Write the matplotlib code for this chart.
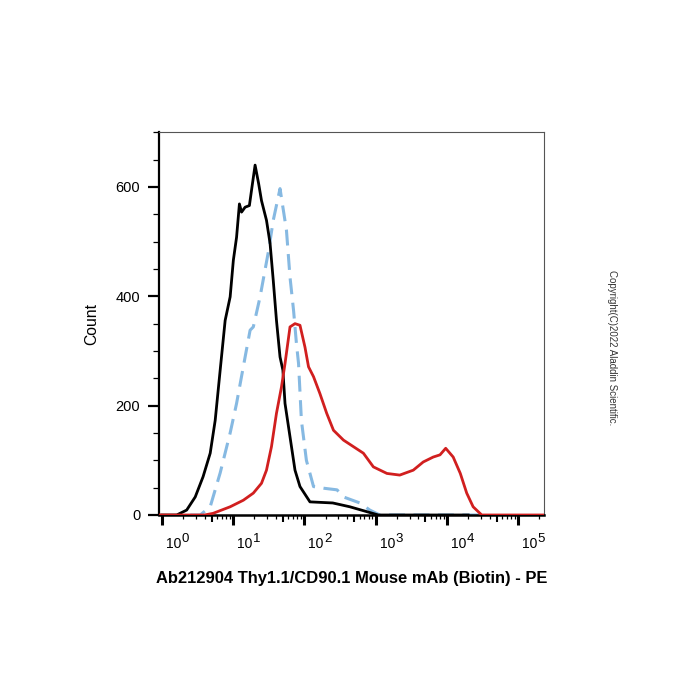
import numpy as np
import matplotlib
matplotlib.use('Agg')
import matplotlib.pyplot as plt
from matplotlib.ticker import FixedLocator, MultipleLocator, NullFormatter

plt.rcParams['font.family'] = ['Liberation Sans', 'DejaVu Sans']

# histogram traces (x in log10 decades, y = count)
black_logx = [0.0, 0.21, 0.35, 0.47, 0.58, 0.68, 0.75, 0.82, 0.89, 0.96, 1.005, 1.05, 1.09,
              1.12, 1.17, 1.23, 1.26, 1.31, 1.36, 1.40, 1.47, 1.52, 1.565, 1.61, 1.66,
              1.70, 1.73, 1.80, 1.87, 1.94, 2.08, 2.40, 2.64, 2.88, 3.04, 4.3]
black_y = [0, 0, 9, 33, 70, 113, 173, 265, 356, 399, 466, 508, 569,
           554, 563, 566, 594, 640, 606, 575, 539, 497, 429, 356, 289,
           265, 204, 143, 82, 52, 24, 22, 15, 6, 0, 0]

blue_logx = [0.4, 0.54, 0.68, 0.82, 0.96, 1.05, 1.17, 1.24, 1.285, 1.38, 1.50, 1.565,
             1.66, 1.75, 1.80, 1.85, 1.89, 1.92, 1.96, 2.03, 2.13, 2.27, 2.46, 2.55,
             2.78, 2.92, 3.06, 4.49]
blue_y = [0, 0, 15, 77, 150, 204, 289, 338, 344, 399, 484, 539,
          597, 521, 435, 374, 314, 277, 173, 100, 52, 49, 46, 33,
          22, 9, 0, 0]

red_logx = [-0.034, 0.6, 0.72, 0.96, 1.145, 1.285, 1.40, 1.47, 1.54, 1.61, 1.68, 1.73, 1.80,
            1.87, 1.94, 2.01, 2.06, 2.13, 2.22, 2.315, 2.41, 2.55, 2.69, 2.83, 2.97, 3.16,
            3.34, 3.53, 3.67, 3.81, 3.905, 3.985, 4.09, 4.19, 4.28, 4.37, 4.49, 5.369]
red_y = [0, 0, 3, 15, 27, 40, 58, 82, 125, 186, 234, 277, 344,
         350, 347, 307, 271, 253, 222, 186, 155, 137, 125, 113, 88, 76,
         73, 82, 97, 106, 110, 122, 106, 76, 40, 15, 0, 0]

decades = [0, 1, 2, 3, 4, 5]
xlabel = 'Ab212904 Thy1.1/CD90.1 Mouse mAb (Biotin) - PE'

fig = plt.figure(figsize=(7, 7), dpi=100)
ax = fig.add_axes([0.2276, 0.2643, 0.55, 0.5467])

ax.plot(10 ** np.array(black_logx), black_y, color='black', lw=2.0, zorder=3)
ax.plot(10 ** np.array(blue_logx), blue_y, color='#86b9e2', lw=2.2,
        dashes=(5.2, 2.8), zorder=2)
ax.plot(10 ** np.array(red_logx), red_y, color='#d11f1f', lw=2.0, zorder=4)

ax.set_xscale('log')
ax.set_xlim(10 ** -0.034, 10 ** 5.369)
ax.set_ylim(0, 700)

major = [10.0 ** d for d in decades]
ax.xaxis.set_major_locator(FixedLocator(major))
ax.xaxis.set_major_formatter(NullFormatter())
minor = [m * 10.0 ** d for d in decades for m in (2, 3, 4, 6, 7, 8, 9)]
ax.xaxis.set_minor_locator(FixedLocator(minor))
ax.xaxis.set_minor_formatter(NullFormatter())

# the 5x ticks are a bit heavier than the other minors
sec = ax.secondary_xaxis('bottom')
sec.set_xticks([5 * 10.0 ** d for d in decades])
sec.xaxis.set_major_formatter(NullFormatter())
sec.xaxis.set_minor_locator(FixedLocator([]))
sec.spines['bottom'].set_visible(False)
sec.tick_params(axis='x', which='major', length=5, width=1.5)

ax.yaxis.set_major_locator(MultipleLocator(200))
ax.yaxis.set_minor_locator(MultipleLocator(50))

ax.tick_params(axis='x', which='major', length=7, width=2.2)
ax.tick_params(axis='x', which='minor', length=3, width=0.9)
ax.tick_params(axis='y', which='major', length=8, width=1.6, labelsize=10.5, pad=5.8)
ax.tick_params(axis='y', which='minor', length=4, width=0.9)

# decade labels: "10" with a large raised exponent
for d in decades:
    ax.annotate('10', xy=(10.0 ** d, 0), xycoords=('data', 'axes fraction'),
                xytext=(3, -24), textcoords='offset points',
                ha='left', va='baseline', fontsize=10)
    ax.annotate(str(d), xy=(10.0 ** d, 0), xycoords=('data', 'axes fraction'),
                xytext=(14.3, -19.3), textcoords='offset points',
                ha='left', va='baseline', fontsize=9.5)

ax.spines['left'].set_linewidth(1.6)
ax.spines['bottom'].set_linewidth(1.8)
for s in ['top', 'right']:
    ax.spines[s].set_color('#555555')
    ax.spines[s].set_linewidth(0.8)

ax.set_ylabel('Count', fontsize=11.3, labelpad=12)
fig.text(0.502, 0.174, xlabel, fontsize=11.9, fontweight='bold',
         ha='center', va='center')

fig.text(0.874, 0.5036, 'Copyright(C)2022 Aladdin Scientific.', rotation=270,
         fontsize=7.0, color='#333333', ha='center', va='center')

fig.savefig('out.png', dpi=100)
